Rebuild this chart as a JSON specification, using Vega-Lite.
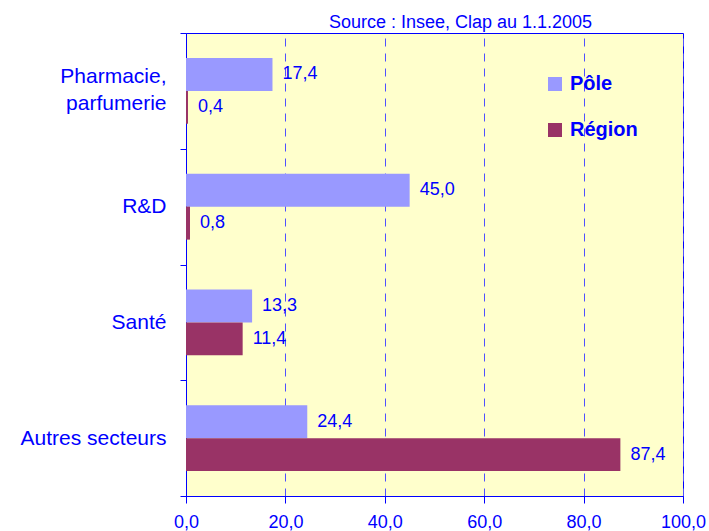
{
  "$schema": "https://vega.github.io/schema/vega-lite/v6.json",
  "width": 497,
  "height": 463,
  "autosize": {"type": "none"},
  "padding": {"left": 186, "top": 33, "right": 26, "bottom": 35},
  "background": "#FFFFFF",
  "title": {
    "text": "Source : Insee, Clap au 1.1.2005",
    "anchor": "middle",
    "dx": 26,
    "dy": 14,
    "offset": 4,
    "font": "Liberation Sans",
    "fontSize": 18,
    "fontWeight": "normal",
    "color": "#0000FF"
  },
  "config": {
    "font": "Liberation Sans",
    "locale": {"number": {"decimal": ",", "thousands": " ", "grouping": [3], "currency": ["", " €"]}},
    "view": {"fill": "#FFFFCC", "stroke": "#0000FF", "strokeWidth": 1}
  },
  "data": {
    "values": [
      {"secteur": "Pharmacie, parfumerie", "serie": "Pôle", "valeur": 17.4},
      {"secteur": "Pharmacie, parfumerie", "serie": "Région", "valeur": 0.4},
      {"secteur": "R&D", "serie": "Pôle", "valeur": 45.0},
      {"secteur": "R&D", "serie": "Région", "valeur": 0.8},
      {"secteur": "Santé", "serie": "Pôle", "valeur": 13.3},
      {"secteur": "Santé", "serie": "Région", "valeur": 11.4},
      {"secteur": "Autres secteurs", "serie": "Pôle", "valeur": 24.4},
      {"secteur": "Autres secteurs", "serie": "Région", "valeur": 87.4}
    ]
  },
  "encoding": {
    "y": {
      "field": "secteur",
      "type": "nominal",
      "sort": ["Pharmacie, parfumerie", "R&D", "Santé", "Autres secteurs"],
      "scale": {"paddingInner": 0, "paddingOuter": 0},
      "axis": {
        "title": null,
        "tickBand": "extent",
        "domainColor": "#0000FF",
        "tickColor": "#0000FF",
        "tickSize": 6,
        "labelPadding": 14,
        "labelColor": "#0000FF",
        "labelFontSize": 21,
        "labelFont": "Liberation Sans",
        "labelLineHeight": 27,
        "labelLimit": 300,
        "labelOffset": {"condition": {"test": "datum.value == 'Pharmacie, parfumerie'", "value": -14}, "value": 0},
        "labelExpr": "datum.value == 'Pharmacie, parfumerie' ? ['Pharmacie,', 'parfumerie'] : datum.value"
      }
    },
    "yOffset": {
      "field": "serie",
      "type": "nominal",
      "sort": ["Pôle", "Région"],
      "scale": {"paddingInner": 0, "paddingOuter": 0.754}
    },
    "x": {
      "field": "valeur",
      "type": "quantitative",
      "scale": {"domain": [0, 100], "nice": false},
      "axis": {
        "title": null,
        "values": [0, 20, 40, 60, 80, 100],
        "format": ".1f",
        "grid": true,
        "gridColor": "#5050FF",
        "gridDash": [8, 7],
        "gridWidth": 1,
        "domainColor": "#0000FF",
        "tickColor": "#0000FF",
        "tickSize": 7,
        "labelPadding": 10,
        "labelColor": "#0000FF",
        "labelFontSize": 18,
        "labelFont": "Liberation Sans",
        "labelFlush": false
      }
    }
  },
  "layer": [
    {
      "mark": {"type": "bar", "strokeWidth": 0},
      "encoding": {
        "color": {
          "field": "serie",
          "type": "nominal",
          "sort": ["Pôle", "Région"],
          "scale": {"domain": ["Pôle", "Région"], "range": ["#9999FF", "#993366"]},
          "legend": {
            "title": null,
            "orient": "none",
            "legendX": 359,
            "legendY": 41,
            "padding": 0,
            "symbolType": "square",
            "symbolSize": 196,
            "symbolStrokeWidth": 0,
            "symbolOpacity": 1,
            "labelFont": "Liberation Sans",
            "labelFontSize": 20,
            "labelFontWeight": "bold",
            "labelColor": "#0000FF",
            "labelOffset": 5,
            "rowPadding": 26
          }
        }
      }
    },
    {
      "mark": {
        "type": "text",
        "align": "left",
        "baseline": "middle",
        "dx": 10,
        "fontSize": 18,
        "font": "Liberation Sans",
        "color": "#0000FF"
      },
      "encoding": {
        "text": {"field": "valeur", "type": "quantitative", "format": ".1f"}
      }
    }
  ]
}
